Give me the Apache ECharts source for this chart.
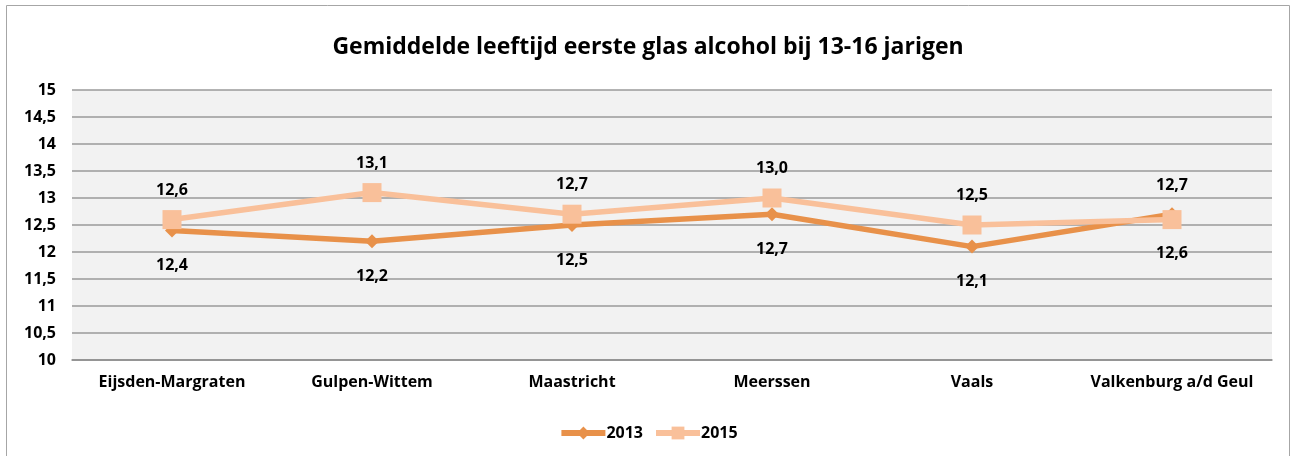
<!DOCTYPE html>
<html><head><meta charset="utf-8">
<script src="https://cdn.jsdelivr.net/npm/echarts@6/dist/echarts.min.js"></script>
<style>html,body{margin:0;padding:0;background:#fff}#c{width:1296px;height:456px}</style>
</head><body><div id="c"></div>
<script>
const categories = ['Eijsden-Margraten','Gulpen-Wittem','Maastricht','Meerssen','Vaals','Valkenburg a/d Geul'];
const values2013 = [12.4, 12.2, 12.5, 12.7, 12.1, 12.7];
const values2015 = [12.6, 13.1, 12.7, 13.0, 12.5, 12.6];
const labelPos2013 = ['bottom','bottom','bottom','bottom','bottom','top'];
const labelPos2015 = ['top','top','top','top','top','bottom'];
const yTicks = ['10','10,5','11','11,5','12','12,5','13','13,5','14','14,5','15'];
const FONT = '"Open Sans", sans-serif';
const fmt = v => v.toFixed(1).replace('.', ',');
function mk(vals, pos, dTop, dBottom){
  return vals.map((v,i)=>({value:v, label:{position:pos[i], distance: pos[i]==='top'?dTop:dBottom}}));
}
const chart = echarts.init(document.getElementById('c'));
chart.setOption({
  animation:false,
  backgroundColor:'#fff',
  graphic:[{type:'rect',shape:{x:6.5,y:5.5,width:1283,height:460},style:{fill:'none',stroke:'#a6a6a6',lineWidth:1},silent:true}],
  title:{text:'Gemiddelde leeftijd eerste glas alcohol bij 13-16 jarigen',left:'center',top:31,
    textStyle:{fontFamily:FONT,fontWeight:'bold',fontSize:23,color:'#000'}},
  grid:{left:72,right:24,top:90,bottom:96,show:true,backgroundColor:'#f2f2f2',borderWidth:0},
  legend:{bottom:10,left:'center',itemWidth:44,itemHeight:16,itemGap:10,
    lineStyle:{width:6},
    textStyle:{fontFamily:FONT,fontWeight:'bold',fontSize:16,color:'#000',padding:[0,0,0,-4]},
    data:['2013','2015']},
  xAxis:{type:'category',data:categories,boundaryGap:true,
    axisLine:{show:true,lineStyle:{color:'#8c8c8c',width:1.5}},axisTick:{show:false},
    axisLabel:{interval:0,fontFamily:FONT,fontWeight:'bold',fontSize:16,color:'#000',margin:14}},
  yAxis:{type:'value',min:10,max:15,interval:0.5,
    axisLine:{show:false},axisTick:{show:false},
    splitLine:{lineStyle:{color:'#9a9a9a',width:1.5}},
    axisLabel:{fontFamily:FONT,fontWeight:'bold',fontSize:16,color:'#000',margin:16,
      formatter:(v)=>yTicks[Math.round((v-10)/0.5)]}},
  series:[
    {name:'2013',type:'line',data:mk(values2013,labelPos2013,14,20),symbol:'diamond',symbolSize:14,
      lineStyle:{color:'#e8914a',width:5.5},itemStyle:{color:'#e8914a'},
      label:{show:true,formatter:p=>fmt(p.value),fontFamily:FONT,fontWeight:'bold',fontSize:16,color:'#000'},z:2},
    {name:'2015',type:'line',data:mk(values2015,labelPos2015,12,16),symbol:'rect',symbolSize:19,
      lineStyle:{color:'#f9c09a',width:5.5},itemStyle:{color:'#f9c09a'},
      label:{show:true,formatter:p=>fmt(p.value),fontFamily:FONT,fontWeight:'bold',fontSize:16,color:'#000'},z:3}
  ]
});
</script></body></html>
